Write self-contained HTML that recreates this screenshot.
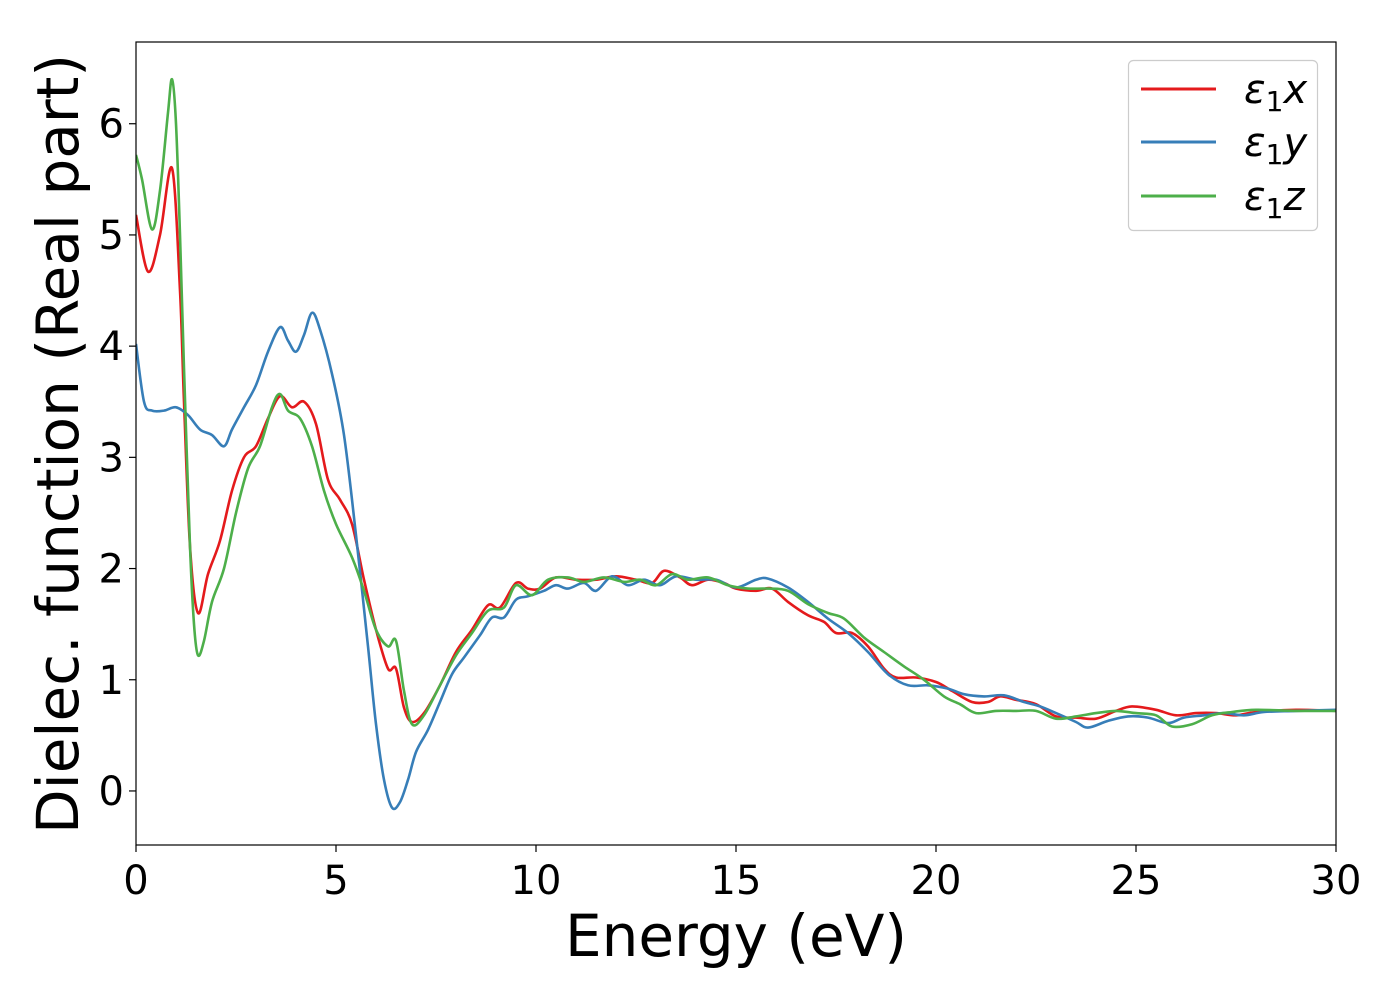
<!DOCTYPE html>
<html><head><meta charset="utf-8">
<style>
body{margin:0;background:#fff;}
svg{display:block;font-family:"DejaVu Sans","Liberation Sans",sans-serif;}
</style></head>
<body>
<svg id="chart" width="1400" height="1000" viewBox="0 0 1400 1000" xmlns="http://www.w3.org/2000/svg">
<rect width="1400" height="1000" fill="#fff"/>
<g id="series"></g>
<rect x="136" y="42" width="1200" height="803" fill="none" stroke="#000" stroke-width="1.2"/>
<g id="xticks"></g>
<g id="yticks"></g>
<text x="736" y="956" font-size="58" text-anchor="middle">Energy (eV)</text>
<text transform="translate(78,444) rotate(-90)" font-size="58" text-anchor="middle">Dielec. function (Real part)</text>
<g>
<rect x="1128.5" y="60.5" width="189" height="170" rx="5" fill="#fff" fill-opacity="0.8" stroke="#ccc" stroke-width="1.2"/>
<g><line x1="1141" y1="89" x2="1216" y2="89" stroke="#e41a1c" stroke-width="3"/><text x="1244" y="103" font-size="40" font-style="italic">ε<tspan font-style="normal" font-size="28" dy="8">1</tspan><tspan dy="-8">x</tspan></text></g>
<g><line x1="1141" y1="142" x2="1216" y2="142" stroke="#377eb8" stroke-width="3"/><text x="1244" y="156" font-size="40" font-style="italic">ε<tspan font-style="normal" font-size="28" dy="8">1</tspan><tspan dy="-8">y</tspan></text></g>
<g><line x1="1141" y1="196" x2="1216" y2="196" stroke="#4daf4a" stroke-width="3"/><text x="1244" y="210" font-size="40" font-style="italic">ε<tspan font-style="normal" font-size="28" dy="8">1</tspan><tspan dy="-8">z</tspan></text></g>
</g>
</svg>
<script>
const xTicks=[0,5,10,15,20,25,30];
const yTicks=[0,1,2,3,4,5,6];
const epsX=[[0,5.18],[0.3,4.67],[0.6,5.0],[0.9,5.6],[1.1,4.5],[1.2,3.5],[1.35,2.2],[1.55,1.6],[1.8,1.95],[2.1,2.25],[2.4,2.7],[2.7,3.0],[3.0,3.1],[3.3,3.35],[3.6,3.55],[3.9,3.45],[4.2,3.5],[4.5,3.3],[4.8,2.8],[5.1,2.62],[5.4,2.4],[5.7,1.9],[6.0,1.45],[6.3,1.1],[6.5,1.1],[6.7,0.75],[6.9,0.62],[7.2,0.7],[7.6,0.95],[8.0,1.25],[8.4,1.45],[8.8,1.67],[9.1,1.65],[9.5,1.87],[9.8,1.82],[10.1,1.82],[10.5,1.92],[11,1.9],[11.5,1.9],[12,1.93],[12.5,1.9],[12.9,1.87],[13.2,1.98],[13.6,1.92],[13.9,1.85],[14.3,1.9],[14.7,1.87],[15,1.82],[15.5,1.8],[15.9,1.82],[16.3,1.7],[16.8,1.58],[17.2,1.52],[17.5,1.42],[17.9,1.42],[18.3,1.3],[18.7,1.1],[19,1.02],[19.5,1.02],[20,0.98],[20.4,0.9],[20.9,0.8],[21.3,0.8],[21.6,0.85],[22,0.82],[22.5,0.78],[23,0.67],[23.5,0.66],[24,0.65],[24.5,0.72],[24.9,0.76],[25.5,0.73],[26,0.68],[26.5,0.7],[27,0.7],[27.5,0.68],[28,0.71],[29,0.73],[30,0.72]];
const epsY=[[0,4.02],[0.2,3.5],[0.4,3.42],[0.7,3.42],[1.0,3.45],[1.3,3.38],[1.6,3.25],[1.9,3.2],[2.2,3.1],[2.4,3.25],[2.7,3.45],[3.0,3.65],[3.3,3.95],[3.6,4.17],[3.8,4.05],[4.0,3.95],[4.2,4.1],[4.4,4.3],[4.6,4.15],[4.9,3.75],[5.2,3.2],[5.5,2.3],[5.8,1.3],[6.0,0.6],[6.2,0.1],[6.4,-0.15],[6.6,-0.1],[6.8,0.1],[7.0,0.35],[7.3,0.55],[7.6,0.8],[7.9,1.05],[8.2,1.2],[8.6,1.4],[8.9,1.56],[9.2,1.56],[9.5,1.72],[9.8,1.75],[10.2,1.8],[10.5,1.85],[10.8,1.82],[11.2,1.87],[11.5,1.8],[11.9,1.93],[12.3,1.85],[12.7,1.9],[13.1,1.85],[13.5,1.93],[14,1.9],[14.5,1.9],[15,1.83],[15.5,1.9],[15.8,1.91],[16.3,1.83],[16.8,1.7],[17.3,1.55],[17.8,1.42],[18.3,1.25],[18.8,1.05],[19.3,0.95],[19.8,0.95],[20.3,0.92],[20.7,0.87],[21.2,0.85],[21.7,0.86],[22.2,0.8],[22.6,0.76],[23,0.7],[23.5,0.62],[23.8,0.57],[24.3,0.63],[24.8,0.67],[25.3,0.66],[25.8,0.61],[26.2,0.66],[26.7,0.68],[27.2,0.7],[27.7,0.68],[28.2,0.71],[29,0.72],[30,0.73]];
const epsZ=[[0,5.72],[0.15,5.5],[0.4,5.05],[0.6,5.4],[0.8,6.1],[0.9,6.4],[1.0,6.0],[1.1,5.0],[1.2,3.8],[1.35,2.2],[1.45,1.5],[1.55,1.22],[1.7,1.35],[1.9,1.7],[2.2,2.0],[2.5,2.5],[2.8,2.9],[3.1,3.1],[3.4,3.45],[3.6,3.57],[3.8,3.42],[4.1,3.35],[4.4,3.1],[4.7,2.7],[5.0,2.4],[5.4,2.1],[5.7,1.8],[6.0,1.45],[6.3,1.3],[6.5,1.35],[6.7,0.9],[6.9,0.6],[7.2,0.68],[7.6,0.95],[8.0,1.22],[8.4,1.42],[8.8,1.62],[9.2,1.65],[9.5,1.85],[9.9,1.76],[10.3,1.9],[10.8,1.92],[11.2,1.88],[11.7,1.92],[12.2,1.88],[12.6,1.9],[13,1.85],[13.4,1.95],[13.8,1.9],[14.3,1.92],[14.8,1.85],[15.3,1.82],[15.8,1.82],[16.3,1.8],[16.8,1.68],[17.3,1.6],[17.7,1.55],[18.2,1.38],[18.7,1.25],[19.2,1.12],[19.7,1.0],[20.2,0.85],[20.6,0.78],[21.0,0.7],[21.5,0.72],[22,0.72],[22.5,0.72],[23,0.65],[23.5,0.67],[24,0.7],[24.5,0.72],[25,0.7],[25.5,0.68],[25.9,0.58],[26.4,0.6],[26.9,0.68],[27.4,0.71],[28,0.73],[29,0.72],[30,0.72]];
const NS="http://www.w3.org/2000/svg";
const X0=136,X1=1336,xMin=0,xMax=30,Y0=845,Y1=42,yMin=-0.486,yMax=6.735;
const sx=v=>X0+(v-xMin)/(xMax-xMin)*(X1-X0);
const sy=v=>Y0-(v-yMin)/(yMax-yMin)*(Y0-Y1);
function mk(t,a,p){const e=document.createElementNS(NS,t);for(const k in a)e.setAttribute(k,a[k]);p.appendChild(e);return e;}
const xg=document.getElementById('xticks'),yg=document.getElementById('yticks');
xTicks.forEach(v=>{
 const l=mk('line',{x1:sx(v),x2:sx(v),y1:Y0,y2:Y0+7,stroke:'#000','stroke-width':1.2},xg);
 
 
 const t=mk('text',{x:sx(v),y:Y0+49,'font-size':40,'text-anchor':'middle'},xg);
 
 
 t.textContent=v;
});
yTicks.forEach(v=>{
 const l=mk('line',{x1:X0-7,x2:X0,y1:sy(v),y2:sy(v),stroke:'#000','stroke-width':1.2},yg);
 
 
 const t=mk('text',{x:X0-12,y:sy(v)+14,'font-size':40,'text-anchor':'end'},yg);
 
 
 t.textContent=v;
});
function pathOf(d){
 const p=d.map(q=>[sx(q[0]),sy(q[1])]);
 let s='M'+p[0][0].toFixed(1)+','+p[0][1].toFixed(1);
 for(let i=0;i<p.length-1;i++){
  const a=p[Math.max(0,i-1)],b=p[i],c=p[i+1],e=p[Math.min(p.length-1,i+2)];
  const c1=[b[0]+(c[0]-a[0])/6,b[1]+(c[1]-a[1])/6],c2=[c[0]-(e[0]-b[0])/6,c[1]-(e[1]-b[1])/6];
  s+=' C'+c1.map(n=>n.toFixed(1))+' '+c2.map(n=>n.toFixed(1))+' '+c.map(n=>n.toFixed(1));
 }
 return s;
}
const sg=document.getElementById('series');
const cp=mk('clipPath',{id:'clip'},sg);mk('rect',{x:X0,y:Y1,width:X1-X0,height:Y0-Y1},cp);
const px=mk('path',{d:pathOf(epsX),fill:'none',stroke:'#e41a1c','stroke-width':2.6,'clip-path':'url(#clip)'},sg);


const py=mk('path',{d:pathOf(epsY),fill:'none',stroke:'#377eb8','stroke-width':2.6,'clip-path':'url(#clip)'},sg);


const pz=mk('path',{d:pathOf(epsZ),fill:'none',stroke:'#4daf4a','stroke-width':2.6,'clip-path':'url(#clip)'},sg);


</script>
</body></html>
